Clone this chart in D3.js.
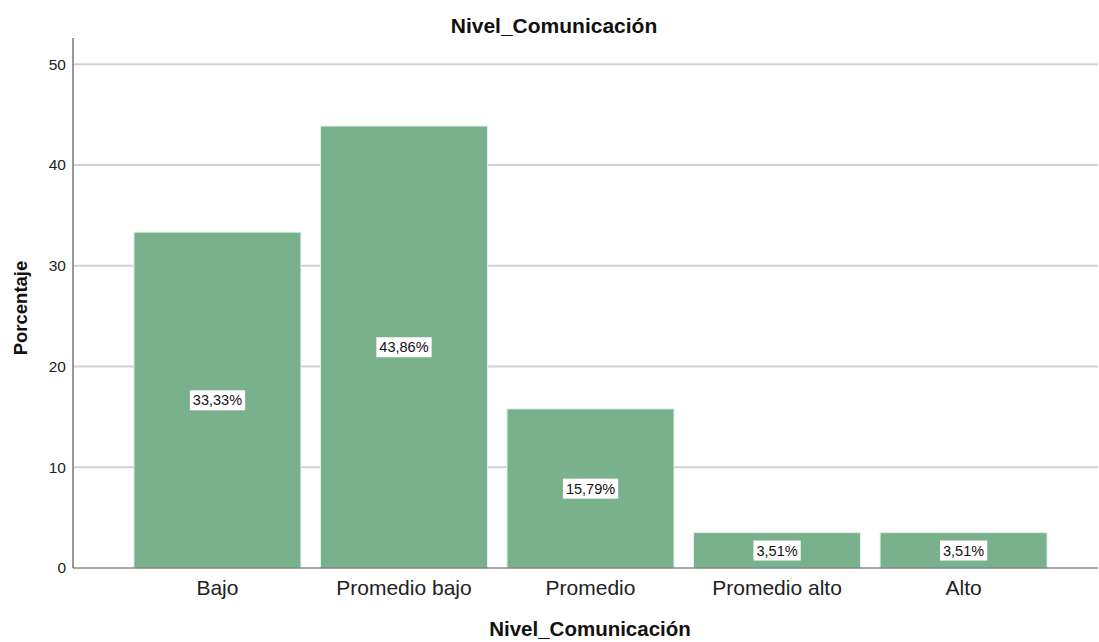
<!DOCTYPE html>
<html><head><meta charset="utf-8">
<script src="https://cdn.jsdelivr.net/npm/d3@7"></script>
<style>body{margin:0;background:#fff;font-family:"Liberation Sans",Arial,sans-serif}</style>
</head><body><svg id="c" width="1099" height="642"></svg>
<script>
const categories = ["Bajo","Promedio bajo","Promedio","Promedio alto","Alto"];
const values = [33.33,43.86,15.79,3.51,3.51];
const labels = ["33,33%","43,86%","15,79%","3,51%","3,51%"];
const yTicks = [0,10,20,30,40,50];

const svg = d3.select("#c");
const x = d3.scaleBand().domain(categories).range([83,1098]).paddingInner(0.1046).paddingOuter(0.273);
const y = d3.scaleLinear().domain([0,52.6]).range([568,38]);

// grid
svg.append("g").selectAll("line").data(yTicks.filter(d=>d>0)).join("line")
  .attr("x1",73).attr("x2",1098).attr("y1",d=>y(d)).attr("y2",d=>y(d))
  .attr("stroke","#d2d2d2").attr("stroke-width",2);

// bars
svg.append("g").selectAll("rect").data(values).join("rect")
  .attr("x",(d,i)=>x(categories[i])).attr("width",x.bandwidth())
  .attr("y",d=>y(d)).attr("height",d=>y(0)-y(d))
  .attr("fill","#79b18c").attr("stroke","#e6f0e9").attr("stroke-width",1);

// axes
const ya = svg.append("g").attr("transform","translate(73,0)")
  .call(d3.axisLeft(y).tickValues(yTicks).tickSize(0).tickPadding(7));
ya.select(".domain").remove();
ya.selectAll("text").attr("font-family","Liberation Sans, Arial").attr("font-size",15.5).attr("fill","#222");
svg.append("line").attr("x1",73).attr("x2",73).attr("y1",38).attr("y2",568).attr("stroke","#777").attr("stroke-width",1.5);
svg.append("line").attr("x1",73).attr("x2",1098).attr("y1",568).attr("y2",568).attr("stroke","#555").attr("stroke-width",1.2);

const xa = svg.append("g").attr("transform","translate(0,568)")
  .call(d3.axisBottom(x).tickSize(0).tickPadding(12));
xa.select(".domain").remove();
xa.selectAll("text").attr("font-family","Liberation Sans, Arial").attr("font-size",21).attr("fill","#222");

// value labels
const lg = svg.append("g").selectAll("g").data(values).join("g")
  .attr("transform",(d,i)=>`translate(${x(categories[i])+x.bandwidth()/2},${(y(d)+y(0))/2})`);
lg.each(function(d,i){
  const g = d3.select(this);
  const t = g.append("text").text(labels[i]).attr("text-anchor","middle").attr("dy","0.36em")
    .attr("font-size",14.5).attr("font-family","Liberation Sans, Arial").attr("fill","#111");
  const b = t.node().getBBox();
  g.insert("rect","text").attr("x",b.x-3).attr("y",b.y-2).attr("width",b.width+6).attr("height",b.height+4)
    .attr("fill","#fff");
});

// titles
svg.append("text").attr("x",554).attr("y",33).attr("text-anchor","middle")
  .attr("font-size",21).attr("font-weight","bold").attr("fill","#111").text("Nivel_Comunicación");
svg.append("text").attr("x",590).attr("y",636).attr("text-anchor","middle")
  .attr("font-size",20.5).attr("font-weight","bold").attr("fill","#111").text("Nivel_Comunicación");
svg.append("text").attr("transform","translate(27,308) rotate(-90)").attr("text-anchor","middle")
  .attr("font-size",18.5).attr("font-weight","bold").attr("fill","#111").text("Porcentaje");
</script></body></html>
